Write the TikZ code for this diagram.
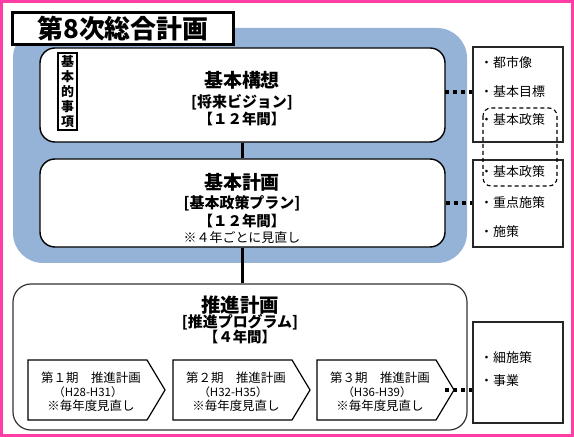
\documentclass[tikz,border=0pt]{standalone}
\usepackage{fontspec}
\newfontfamily\jp{Noto Sans CJK JP}
\definecolor{framepink}{HTML}{FF3EA5}
\definecolor{bgblue}{HTML}{95B3D7}
\tikzset{
  mainbox/.style={draw=black, line width=1.4bp, fill=white, rounded corners=15bp, inner sep=0pt},
  sidebox/.style={draw=black!85, line width=1.2bp, fill=white, inner sep=0pt},
  vline/.style={draw=black, line width=3.5bp},
  dotline/.style={draw=black, line width=4bp, dash pattern=on 4bp off 4bp},
  pent/.style={draw=black, line width=1.2bp, fill=white},
  txt/.style={inner sep=0pt, font=\jp},
  item/.style={inner sep=0pt, anchor=west, font=\jp\fontsize{13}{15}\selectfont},
}
\begin{document}
\begin{tikzpicture}[x=1bp,y=-1bp]
\useasboundingbox (0,0) rectangle (574,437);
% pink frame
\draw[framepink, line width=3bp] (1.5,1.5) rectangle (572.5,435);
% blue background
\fill[bgblue, rounded corners=30bp] (13,28) rectangle (467,263);
% title
\node[draw=black, line width=3bp, fill=white, minimum width=220bp, minimum height=32bp, inner sep=0pt] (title) at (123,28.5) {};
\node[txt, font=\jp\bfseries\fontsize{26}{28}\selectfont] (titletxt) at (123,29) {第8次総合計画};

% main boxes
\node[mainbox, minimum width=405bp, minimum height=94bp] (kousou) at (242.5,95) {};
\node[mainbox, minimum width=405bp, minimum height=88bp] (keikaku) at (242.5,203) {};
\node[draw=black!80, line width=1.2bp, fill=white, rounded corners=18bp, minimum width=454bp, minimum height=146bp, inner sep=0pt] (suishin) at (240,357) {};

% vertical label
\node[draw=black, line width=1.2bp, fill=white, minimum width=19bp, minimum height=77bp, inner sep=0pt] (kihonteki) at (67.5,91.5) {};
\node[txt, align=center, font=\jp\bfseries\fontsize{13}{15}\selectfont] at (67.5,91.5) {基\\本\\的\\事\\項};

% texts in kousou
\node[txt, font=\jp\bfseries\fontsize{19}{22}\selectfont] (k1) at (242,80) {基本構想};
\node[txt, font=\jp\bfseries\fontsize{15}{18}\selectfont] (k2) at (242,102) {[将来ビジョン]};
\node[txt, font=\jp\bfseries\fontsize{14.5}{17}\selectfont] (k3) at (242,119) {【１２年間】};

% texts in keikaku
\node[txt, font=\jp\bfseries\fontsize{19}{22}\selectfont] (g1) at (242,182) {基本計画};
\node[txt, font=\jp\bfseries\fontsize{15}{18}\selectfont] (g2) at (242,203) {[基本政策プラン]};
\node[txt, font=\jp\bfseries\fontsize{14.5}{17}\selectfont] (g3) at (242,221) {【１２年間】};
\node[txt, font=\jp\fontsize{13}{15}\selectfont] (g4) at (242,237.5) {※４年ごとに見直し};

% texts in suishin
\node[txt, font=\jp\bfseries\fontsize{19.5}{22}\selectfont] (s1) at (240,305) {推進計画};
\node[txt, font=\jp\bfseries\fontsize{15}{18}\selectfont] (s2) at (240,322) {[推進プログラム]};
\node[txt, font=\jp\bfseries\fontsize{14.5}{17}\selectfont] (s3) at (240,337) {【４年間】};

% connectors between main boxes
\draw[vline] (kousou.south) -- (keikaku.north);
\draw[vline] (keikaku.south) -- (keikaku.south |- suishin.north);

% pentagons
\foreach \i/\x/\n/\yr in {1/28/１/H28-H31, 2/173/２/H32-H35, 3/317/３/H36-H39} {
  \draw[pent] (\x,360) -- ++(119,0) -- ++(18,30) -- ++(-18,30) -- ++(-119,0) -- cycle;
  \coordinate (tip\i) at ({\x+137},390);
  \node[txt, font=\jp\fontsize{12.5}{14}\selectfont] (pa\i) at ({\x+63},378) {第\n 期　推進計画};
  \node[txt, font=\jp\fontsize{11.5}{13}\selectfont] (pb\i) at ({\x+60},392.5) {（\yr）};
  \node[txt, font=\jp\fontsize{12.5}{14}\selectfont] (pc\i) at ({\x+63},406) {※毎年度見直し};
}

% side boxes
\node[sidebox, minimum width=90bp, minimum height=95bp] (r1) at (518,94.5) {};
\node[sidebox, minimum width=90bp, minimum height=87bp] (r2) at (518,203.5) {};
\node[sidebox, minimum width=90bp, minimum height=101bp] (r3) at (518,372.5) {};

\node[item] (i1) at (480,63) {・都市像};
\node[item] (i2) at (480,92) {・基本目標};
\node[item] (i3) at (480,120) {・基本政策};
\node[item] (i4) at (480,172) {・基本政策};
\node[item] (i5) at (480,203) {・重点施策};
\node[item] (i6) at (480,232) {・施策};
\node[item] (i7) at (480,358) {・細施策};
\node[item] (i8) at (480,381) {・事業};

% dashed group
\draw[black, line width=1.1bp, dash pattern=on 4bp off 3bp, rounded corners=8bp] (483,108) rectangle (557,186);

% dotted connectors
\coordinate (d1) at (445,92);
\draw[dotline] (d1) -- (d1 -| r1.west);
\draw[dotline] (keikaku.east) -- (keikaku.east -| r2.west);
\draw[dotline] ([xshift=-9bp]tip3) -- (tip3 -| r3.west);
\end{tikzpicture}
\end{document}
